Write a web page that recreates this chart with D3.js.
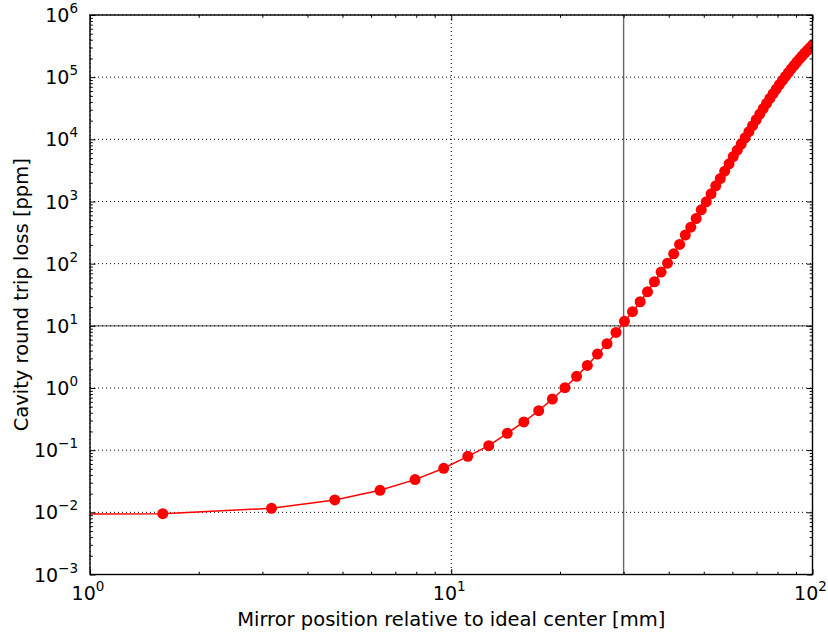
<!DOCTYPE html>
<html>
<head>
<meta charset="utf-8">
<script src="https://cdn.jsdelivr.net/npm/d3@7"></script>
<style>
  html, body { margin: 0; padding: 0; background: #fff; }
  svg { display: block; }
  text { font-family: "DejaVu Sans", sans-serif; fill: #000; }
</style>
</head>
<body>
<svg id="chart" width="828" height="634"></svg>
<script>
// Mirror position [mm] (first point at 0 falls off the log axis; only its line segment shows)
const positions = [0, 1.59, 3.18, 4.76, 6.35, 7.94, 9.53, 11.11, 12.70, 14.29, 15.88,
  17.46, 19.05, 20.64, 22.23, 23.81, 25.40, 26.99, 28.58, 30.16, 31.75,
  33.34, 34.93, 36.51, 38.10, 39.69, 41.28, 42.86, 44.45, 46.04, 47.63,
  49.21, 50.80, 52.39, 53.98, 55.56, 57.15, 58.74, 60.33, 61.91, 63.50,
  65.09, 66.68, 68.26, 69.85, 71.44, 73.03, 74.61, 76.20, 77.79, 79.38,
  80.96, 82.55, 84.14, 85.73, 87.31, 88.90, 90.49, 92.08, 93.66, 95.25,
  96.84, 98.43, 100.01];
// Cavity round trip loss [ppm]
const losses = [0.0093, 0.0095, 0.0116, 0.0158, 0.0226, 0.0336, 0.0511, 0.0796, 0.118, 0.187, 0.284,
  0.432, 0.665, 1.01, 1.54, 2.31, 3.52, 5.15, 7.83, 11.8, 16.9,
  24.4, 35.3, 51.2, 73.3, 102, 144, 204, 288, 387, 533,
  735, 988, 1328, 1786, 2340, 3076, 4030, 5280, 6700, 8400,
  10600, 13300, 16600, 20650, 25500, 31200, 37800, 45500, 54300, 64400,
  75900, 88500, 102600, 118300, 135500, 154200, 174600, 196300, 219800, 244900,
  271000, 299200, 328100];

const xMajorTicks = [1, 10, 100];
const xTickExponents = ["0", "1", "2"];
const yMajorTicks = [1e-3, 1e-2, 1e-1, 1e0, 1e1, 1e2, 1e3, 1e4, 1e5, 1e6];
const yTickExponents = ["\u22123", "\u22122", "\u22121", "0", "1", "2", "3", "4", "5", "6"];
const refLineX = 30;   // vertical reference line [mm]
const refLineY = 10;   // horizontal reference line [ppm]
const xLabel = "Mirror position relative to ideal center [mm]";
const yLabel = "Cavity round trip loss [ppm]";

const L = 90, R = 812.5, T = 15, B = 574.5;
const svg = d3.select("#chart");

const x = d3.scaleLog().domain([1, 100]).range([L, R]);
const y = d3.scaleLog().domain([1e-3, 1e6]).range([B, T]);

function minorTicks(lo, hi) {
  const out = [];
  for (let d = lo; d < hi; d *= 10) {
    for (let m = 2; m <= 9; m++) out.push(d * m);
  }
  return out;
}
const xMinor = minorTicks(1, 100);
const yMinor = minorTicks(1e-3, 1e6);

// clip
svg.append("defs").append("clipPath").attr("id", "plotclip")
  .append("rect").attr("x", L).attr("y", T).attr("width", R - L).attr("height", B - T);

// grid (dotted)
const grid = svg.append("g");
grid.selectAll("line.gx").data(xMajorTicks).join("line")
  .attr("x1", d => x(d)).attr("x2", d => x(d)).attr("y1", T).attr("y2", B)
  .attr("stroke", "#000").attr("stroke-width", 1).attr("stroke-dasharray", "1,3");
grid.selectAll("line.gy").data(yMajorTicks).join("line")
  .attr("x1", L).attr("x2", R).attr("y1", d => y(d)).attr("y2", d => y(d))
  .attr("stroke", "#000").attr("stroke-width", 1).attr("stroke-dasharray", "1,3");

// reference lines
svg.append("line")
  .attr("x1", x(refLineX)).attr("x2", x(refLineX)).attr("y1", T).attr("y2", B)
  .attr("stroke", "#000").attr("stroke-opacity", 0.6).attr("stroke-width", 1.4);
svg.append("line")
  .attr("x1", L).attr("x2", R).attr("y1", y(refLineY)).attr("y2", y(refLineY))
  .attr("stroke", "#000").attr("stroke-opacity", 0.6).attr("stroke-width", 1.4);

// data
const pts = positions.map((p, i) => ({ p, v: losses[i] }));
const plot = svg.append("g").attr("clip-path", "url(#plotclip)");
const line = d3.line()
  .x(d => x(Math.max(d.p, 0.5)))
  .y(d => y(d.v));
plot.append("path").datum(pts).attr("d", line)
  .attr("fill", "none").attr("stroke", "#ff0000").attr("stroke-width", 1.5);
plot.selectAll("circle").data(pts.filter(d => d.p > 0)).join("circle")
  .attr("cx", d => x(d.p)).attr("cy", d => y(d.v)).attr("r", 5.5)
  .attr("fill", "#ff0000");

// axes (ticks inward, all four sides)
function styleAxis(g) {
  g.select(".domain").remove();
  g.selectAll(".tick line").attr("stroke", "#000").attr("stroke-width", 1);
  g.selectAll(".tick text").remove();
}
const maj = 5.5, mnr = 2.8;
svg.append("g").attr("transform", `translate(0,${B})`)
  .call(d3.axisBottom(x).tickValues(xMajorTicks).tickSize(-maj).tickFormat("")).call(styleAxis);
svg.append("g").attr("transform", `translate(0,${B})`)
  .call(d3.axisBottom(x).tickValues(xMinor).tickSize(-mnr).tickFormat("")).call(styleAxis);
svg.append("g").attr("transform", `translate(0,${T})`)
  .call(d3.axisTop(x).tickValues(xMajorTicks).tickSize(-maj).tickFormat("")).call(styleAxis);
svg.append("g").attr("transform", `translate(0,${T})`)
  .call(d3.axisTop(x).tickValues(xMinor).tickSize(-mnr).tickFormat("")).call(styleAxis);
svg.append("g").attr("transform", `translate(${L},0)`)
  .call(d3.axisLeft(y).tickValues(yMajorTicks).tickSize(-maj).tickFormat("")).call(styleAxis);
svg.append("g").attr("transform", `translate(${L},0)`)
  .call(d3.axisLeft(y).tickValues(yMinor).tickSize(-mnr).tickFormat("")).call(styleAxis);
svg.append("g").attr("transform", `translate(${R},0)`)
  .call(d3.axisRight(y).tickValues(yMajorTicks).tickSize(-maj).tickFormat("")).call(styleAxis);
svg.append("g").attr("transform", `translate(${R},0)`)
  .call(d3.axisRight(y).tickValues(yMinor).tickSize(-mnr).tickFormat("")).call(styleAxis);

// frame
svg.append("rect").attr("x", L).attr("y", T).attr("width", R - L).attr("height", B - T)
  .attr("fill", "none").attr("stroke", "#000").attr("stroke-width", 1.4);

// tick labels
const xl = svg.append("g");
xMajorTicks.forEach((t, i) => {
  const tx = xl.append("text").attr("x", x(t) - 2).attr("y", B + 25)
    .attr("text-anchor", "middle").attr("font-size", 19);
  tx.append("tspan").text("10");
  tx.append("tspan").attr("dy", -9).attr("font-size", 13.5).text(xTickExponents[i]);
});
const yl = svg.append("g");
yMajorTicks.forEach((t, i) => {
  const ty = yl.append("text").attr("x", L - 12).attr("y", y(t) + 7)
    .attr("text-anchor", "end").attr("font-size", 19);
  ty.append("tspan").text("10");
  ty.append("tspan").attr("dy", -9).attr("font-size", 13.5).text(yTickExponents[i]);
});

// axis labels
svg.append("text").attr("x", (L + R) / 2).attr("y", 626)
  .attr("text-anchor", "middle").attr("font-size", 19.5).text(xLabel);
svg.append("text").attr("transform", `translate(28,${(T + B) / 2}) rotate(-90)`)
  .attr("text-anchor", "middle").attr("font-size", 19.5).text(yLabel);
</script>
</body>
</html>
